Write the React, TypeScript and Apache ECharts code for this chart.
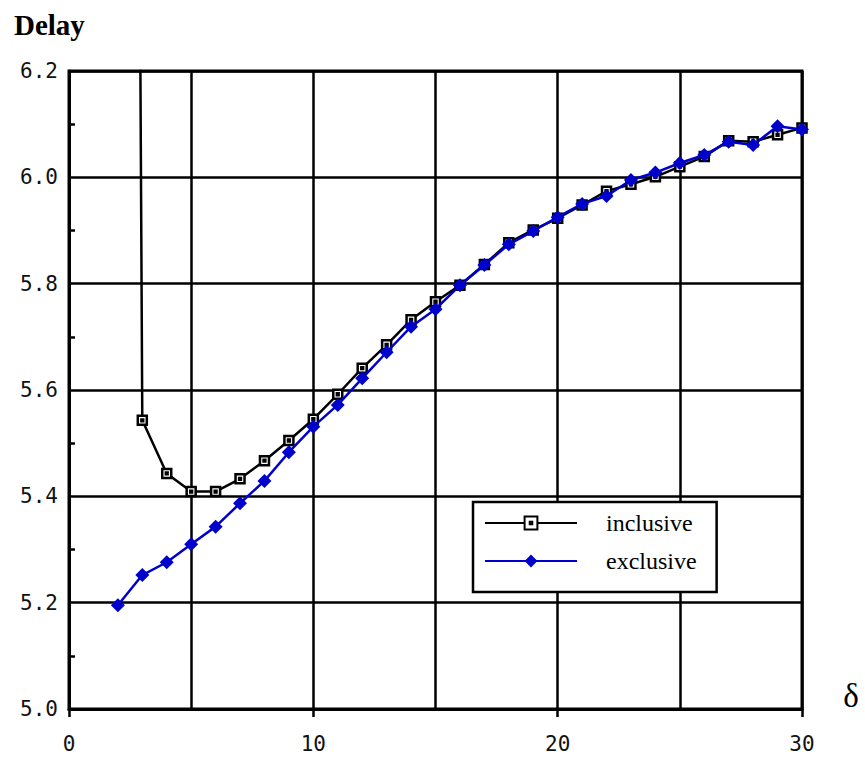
import React, { useEffect, useRef } from 'react';
import * as echarts from 'echarts';

const deltas = [2, 3, 4, 5, 6, 7, 8, 9, 10, 11, 12, 13, 14, 15, 16, 17, 18, 19, 20, 21, 22, 23, 24, 25, 26, 27, 28, 29, 30];
const inclusive = [14.0, 5.543, 5.443, 5.409, 5.409, 5.433, 5.467, 5.505, 5.545, 5.592, 5.641, 5.685, 5.732, 5.766, 5.797, 5.836, 5.877, 5.901, 5.923, 5.948, 5.974, 5.987, 6.001, 6.020, 6.039, 6.069, 6.067, 6.080, 6.093];
const exclusive = [5.195, 5.252, 5.276, 5.310, 5.343, 5.387, 5.429, 5.483, 5.531, 5.572, 5.622, 5.671, 5.719, 5.752, 5.797, 5.835, 5.874, 5.899, 5.925, 5.950, 5.965, 5.995, 6.009, 6.027, 6.042, 6.067, 6.061, 6.096, 6.090];
const seriesNames = ['inclusive', 'exclusive'];
const yTitle = 'Delay';
const xTitle = 'δ';

const MONO = '"DejaVu Sans Mono", "Liberation Mono", monospace';
const SERIF = '"Liberation Serif", "DejaVu Serif", serif';

export default function App() {
  const ref = useRef<HTMLDivElement>(null);
  useEffect(() => {
    if (!ref.current) return;
    const chart = echarts.init(ref.current, undefined, { renderer: 'svg' });
    const gridLine = { lineStyle: { color: '#000', width: 2.5 } };
    chart.setOption({
      animation: false,
      backgroundColor: '#fff',
      grid: {
        left: 69, right: 63, top: 71, bottom: 51,
        show: true, borderColor: '#000', borderWidth: 3, backgroundColor: 'transparent',
      },
      graphic: [
        { type: 'text', left: 14, top: 10, style: { text: yTitle, font: `bold 29px ${SERIF}`, fill: '#000' } },
        { type: 'text', x: 851, y: 696, style: { text: xTitle, font: `33px ${SERIF}`, fill: '#000', textAlign: 'center', textVerticalAlign: 'middle' } },
      ],
      legend: {
        data: seriesNames,
        orient: 'vertical',
        left: 473,
        top: 502,
        padding: [9, 20, 19, 11],
        itemGap: 14,
        itemWidth: 92,
        itemHeight: 16,
        borderColor: '#000',
        borderWidth: 2.5,
        backgroundColor: '#fff',
        textStyle: { fontFamily: SERIF, fontSize: 24, color: '#000', padding: [0, 0, 0, 24] },
      },
      xAxis: {
        type: 'value', min: 0, max: 30, interval: 10,
        axisLine: { show: true, onZero: false, lineStyle: { color: '#000', width: 3 } },
        axisTick: { show: true, inside: false, length: 8, lineStyle: { color: '#000', width: 2.5 } },
        minorTick: { show: false, splitNumber: 2 },
        splitLine: { show: true, ...gridLine },
        minorSplitLine: { show: true, ...gridLine },
        axisLabel: { fontFamily: MONO, fontSize: 21, color: '#111', margin: 24 },
      },
      yAxis: {
        type: 'value', min: 5.0, max: 6.2, interval: 0.2,
        axisLine: { show: true, onZero: false, lineStyle: { color: '#000', width: 3 } },
        axisTick: { show: false, inside: true },
        minorTick: { show: true, splitNumber: 2, length: 6, lineStyle: { color: '#000', width: 2.5 } },
        splitLine: { show: true, ...gridLine },
        axisLabel: { fontFamily: MONO, fontSize: 21, color: '#111', margin: 11, formatter: (v: number) => v.toFixed(1) },
      },
      series: [
        {
          name: seriesNames[0],
          type: 'line',
          data: deltas.map((d, i) => [d, inclusive[i]]),
          clip: true,
          symbol: 'path://M0,0H10V10H0Z M4,4H6V6H4Z',
          symbolSize: 9,
          symbolKeepAspect: true,
          itemStyle: { color: '#fff', borderColor: '#000', borderWidth: 2.5 },
          lineStyle: { color: '#000', width: 2.5 },
          z: 3,
        },
        {
          name: seriesNames[1],
          type: 'line',
          data: deltas.map((d, i) => [d, exclusive[i]]),
          clip: true,
          symbol: 'diamond',
          symbolSize: 14,
          itemStyle: { color: '#0000cc', borderWidth: 0 },
          lineStyle: { color: '#0000cc', width: 2.5 },
          z: 4,
        },
      ],
    });
    return () => chart.dispose();
  }, []);
  return <div ref={ref} style={{ position: 'fixed', left: 0, top: 0, width: 865, height: 760 }} />;
}
